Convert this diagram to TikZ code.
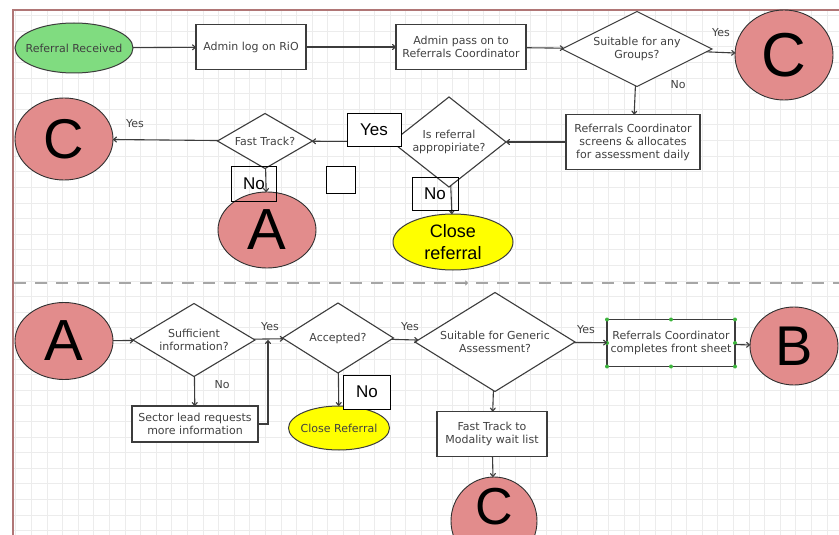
\documentclass[tikz,border=0pt]{standalone}
\usepackage{fontspec}
\setmainfont{DejaVu Sans}
\newfontfamily\bigfont{Liberation Sans}
\usetikzlibrary{shapes.geometric,arrows.meta}
\definecolor{framebrown}{RGB}{176,118,118}
\definecolor{gridgray}{RGB}{236,236,236}
\definecolor{linegray}{RGB}{60,60,60}
\definecolor{textgray}{RGB}{65,65,65}
\definecolor{pinkfill}{RGB}{226,140,140}
\definecolor{greenfill}{RGB}{128,220,128}
\definecolor{yellowfill}{RGB}{255,255,0}
\definecolor{handlegreen}{RGB}{60,180,60}
\tikzset{
  every node/.style={inner sep=0pt, outer sep=0pt},
  small/.style={font=\fontsize{11}{13}\selectfont, text=textgray, align=center},
  procbox/.style={small, draw=linegray, line width=1.1pt, fill=white},
  decision/.style={small, diamond, draw=linegray, line width=1.1pt, fill=white},
  connector/.style={ellipse, draw=linegray!80!black, line width=0.9pt, fill=pinkfill},
  terminal/.style={ellipse, draw=linegray, line width=1pt},
  bigletter/.style={font=\bigfont\fontsize{#1}{#1}\selectfont},
  tagbox/.style={draw=black, line width=1pt, fill=white, font=\bigfont\fontsize{17}{17}\selectfont},
  flow/.style={draw=linegray, line width=1.1pt, -{To[length=4pt,width=6pt]}},
  lbl/.style={small},
  handle/.style={circle, fill=handlegreen, minimum size=4pt}
}
\begin{document}
\begin{tikzpicture}[x=1pt,y=-1pt]
\useasboundingbox (0,0) rectangle (839,535);
\fill[white] (0,0) rectangle (839,535);
% background grid
\begin{scope}
\clip (14,11) rectangle (839,535);
\draw[gridgray, line width=0.6pt] (14,11) grid[step=15.6pt] (839,535);
\end{scope}
% page frame
\draw[framebrown, line width=2pt] (13,535) -- (13,10) -- (839,10);

% ---------- upper stage ----------
\node[terminal, fill=greenfill, minimum width=118pt, minimum height=50pt] (recv) at (74,48) {};
\node[small, text=black!75] (recvt) at (recv.center) {Referral Received};
\node[procbox, minimum width=110pt, minimum height=45pt] (log) at (251,47) {Admin log on RiO};
\node[procbox, minimum width=130pt, minimum height=45pt] (pass) at (461,47) {Admin pass on to\\Referrals Coordinator};
\node[decision, minimum width=150pt, minimum height=75pt, aspect=2] (grp) at (637,49) {Suitable for any\\Groups?};
\node[connector, minimum width=98pt, minimum height=90pt, bigletter=62] (c1) at (784,55) {C};
\node[procbox, minimum width=134pt, minimum height=55pt] (screen) at (633,142) {Referrals Coordinator\\screens \& allocates\\for assessment daily};
\node[decision, minimum width=114pt, minimum height=90pt, aspect=1.27] (appr) at (449,142) {Is referral\\appropiriate?};
\node[decision, minimum width=95pt, minimum height=55pt, aspect=1.73] (fast) at (265,141) {Fast Track?};
\node[connector, minimum width=98pt, minimum height=82pt, bigletter=56] (c2) at (64,139) {C};
\node[connector, minimum width=98pt, minimum height=76pt, bigletter=58] (a1) at (267,230) {A};
\node[terminal, fill=yellowfill, minimum width=120pt, minimum height=56pt] (close1) at (453,242) {};
\node[align=center, font=\bigfont\fontsize{18}{22}\selectfont] (close1t) at (close1.center) {Close\\referral};

\draw[flow] (recv) -- (log);
\draw[flow] (log) -- (pass);
\draw[flow] (pass) -- (grp);
\draw[flow] (grp) -- (c1);
\draw[flow] (grp) -- (screen);
\draw[flow] (screen) -- (appr);
\draw[flow] (appr) -- (fast);
\draw[flow] (fast) -- (c2);
\draw[flow] (fast) -- (a1);
\draw[flow] (appr) -- (close1);

\node[lbl] (y1) at (721,33) {Yes};
\node[lbl] (n1) at (678,85) {No};
\node[lbl] (y2) at (135,124) {Yes};

\node[tagbox, minimum width=54pt, minimum height=33pt] (yesbox) at (374,130) {Yes};
\node[tagbox, minimum width=45pt, minimum height=35pt, fill=none] (nobox1) at (254,184) {No};
\node[tagbox, minimum width=29pt, minimum height=27pt] (blank) at (341,180) {};
\node[tagbox, minimum width=46pt, minimum height=33pt, fill=none] (nobox2) at (435,194) {No};

% ---------- divider ----------
\coordinate (dl) at (14,283);
\coordinate (dr) at (839,283);
\draw[gray!70, line width=1.2pt, dash pattern=on 12pt off 9pt] (dl) -- (dr);
\coordinate (ma) at (456,283);
\coordinate (mb) at (468,283);
\draw[gray!80, line width=1pt, -{To[length=3pt,width=5pt]}] (ma) -- (mb);

% ---------- lower stage ----------
\node[connector, minimum width=98pt, minimum height=77pt, bigletter=58] (a2) at (64,341) {A};
\node[decision, minimum width=122pt, minimum height=73pt, aspect=1.67] (suff) at (194,340) {Sufficient\\information?};
\node[procbox, minimum width=126pt, minimum height=36pt] (sector) at (195,424) {Sector lead requests\\more information};
\node[decision, minimum width=111pt, minimum height=70pt, aspect=1.59] (acc) at (338,338) {Accepted?};
\node[terminal, fill=yellowfill, minimum width=101pt, minimum height=44pt] (close2) at (339,428) {};
\node[small, text=black!75] (close2t) at (close2.center) {Close Referral};
\node[decision, minimum width=160pt, minimum height=99pt, aspect=1.62] (gen) at (495,342) {Suitable for Generic\\Assessment?};
\node[procbox, minimum width=128pt, minimum height=47pt] (front) at (671,343) {Referrals Coordinator\\completes front sheet};
\node[connector, minimum width=88pt, minimum height=78pt, bigletter=56] (b) at (794,346) {B};
\node[procbox, minimum width=110pt, minimum height=45pt] (modal) at (492,434) {Fast Track to\\Modality wait list};
\node[connector, minimum width=86pt, minimum height=88pt] (c3) at (494,521) {};
\node[bigletter=52] (c3t) at (494,507) {C};

% selection handles on the front-sheet box
\foreach \p in {north west,north,north east,east,south east,south,south west,west}
  \node[handle] at (front.\p) {};

\coordinate (join) at (268,340);
\draw[flow] (a2) -- (suff);
\draw[flow] (suff) -- (sector);
\draw[flow] (sector.east) -| (join);
\draw[flow] (suff) -- (acc);
\draw[flow] (acc) -- (close2);
\draw[flow] (acc) -- (gen);
\draw[flow] (gen) -- (front);
\draw[flow] (front) -- (b);
\draw[flow] (gen) -- (modal);
\draw[flow] (modal) -- (c3);

\node[lbl] (n2) at (222,385) {No};
\node[lbl] (y3) at (270,327) {Yes};
\node[lbl] (y4) at (410,327) {Yes};
\node[lbl] (y5) at (586,330) {Yes};

\node[tagbox, minimum width=47pt, minimum height=34pt] (nobox3) at (367,392) {No};
\end{tikzpicture}
\end{document}
